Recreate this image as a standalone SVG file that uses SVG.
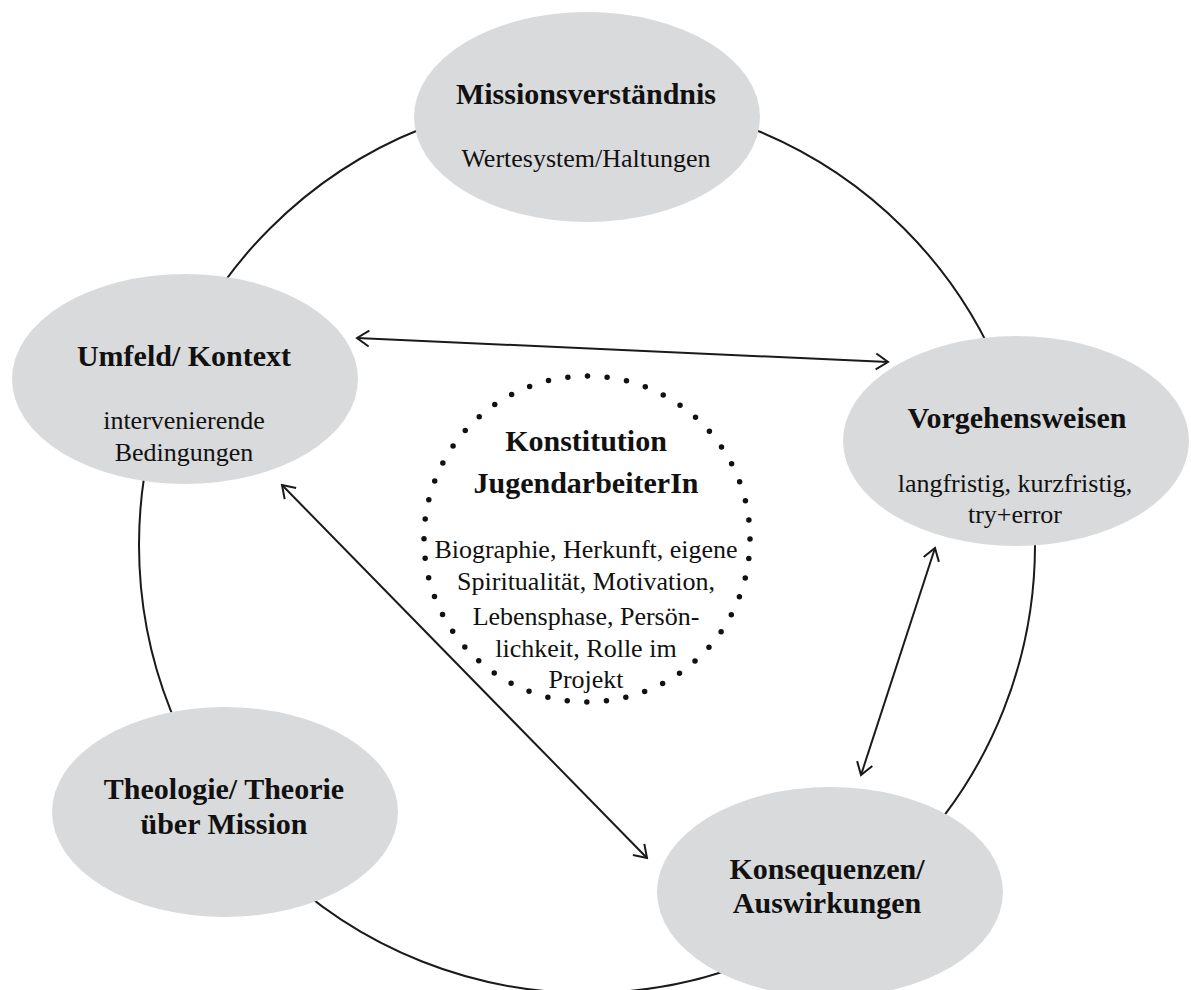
<svg xmlns="http://www.w3.org/2000/svg" width="1191" height="990" viewBox="0 0 1191 990">
<style>
  .node { fill: #d9dadb; stroke: none; }
  .ring { fill: none; stroke: #1a1a1a; stroke-width: 2; }
  .arrow { fill: none; stroke: #1a1a1a; stroke-width: 2; marker-start: url(#head); marker-end: url(#head); }
  .t { font-family: "Liberation Serif", "Times New Roman", serif; fill: #111; text-anchor: middle; }
  .b { font-weight: bold; font-size: 30px; }
  .r { font-size: 26px; }
  .dots { fill: none; stroke: #111; stroke-width: 5.5; stroke-linecap: round; stroke-dasharray: 0 19.7; }
</style>
<defs>
  <marker id="head" viewBox="-14 -10 16 20" refX="0" refY="0" markerWidth="16" markerHeight="20" markerUnits="userSpaceOnUse" orient="auto-start-reverse">
    <path d="M-12,-8 L0,0 L-12,8" fill="none" stroke="#1a1a1a" stroke-width="2"/>
  </marker>
</defs>
<rect width="1191" height="990" fill="#ffffff"/>
<g id="connectors">
  <circle class="ring" cx="587" cy="545" r="448"/>
  <line class="arrow" x1="357" y1="338" x2="888" y2="362"/>
  <line class="arrow" x1="282" y1="485" x2="647" y2="858"/>
  <line class="arrow" x1="935" y1="548" x2="861" y2="775"/>
</g>
<g id="missionsverstaendnis">
  <ellipse class="node" cx="587" cy="117" rx="173" ry="105"/>
  <text class="t b" x="586" y="104">Missionsverständnis</text>
  <text class="t r" x="586" y="167">Wertesystem/Haltungen</text>
</g>
<g id="umfeld-kontext">
  <ellipse class="node" cx="185" cy="379" rx="173" ry="105"/>
  <text class="t b" x="184" y="366">Umfeld/ Kontext</text>
  <text class="t r" x="184" y="429">intervenierende</text>
  <text class="t r" x="184" y="461">Bedingungen</text>
</g>
<g id="vorgehensweisen">
  <ellipse class="node" cx="1016" cy="441" rx="173" ry="105"/>
  <text class="t b" x="1017" y="428">Vorgehensweisen</text>
  <text class="t r" x="1015" y="492">langfristig, kurzfristig,</text>
  <text class="t r" x="1015" y="523">try+error</text>
</g>
<g id="theologie-theorie">
  <ellipse class="node" cx="225" cy="812" rx="173" ry="105"/>
  <text class="t b" x="224" y="799">Theologie/ Theorie</text>
  <text class="t b" x="224" y="834">über Mission</text>
</g>
<g id="konsequenzen-auswirkungen">
  <ellipse class="node" cx="830" cy="892" rx="173" ry="105"/>
  <text class="t b" x="827" y="879">Konsequenzen/</text>
  <text class="t b" x="827" y="913">Auswirkungen</text>
</g>
<g id="konstitution-jugendarbeiterin">
  <circle class="dots" cx="587" cy="539" r="163"/>
  <text class="t b" x="586" y="451">Konstitution</text>
  <text class="t b" x="586" y="493">JugendarbeiterIn</text>
  <text class="t r" x="586" y="558">Biographie, Herkunft, eigene</text>
  <text class="t r" x="586" y="590">Spiritualität, Motivation,</text>
  <text class="t r" x="586" y="625">Lebensphase, Persön-</text>
  <text class="t r" x="586" y="657">lichkeit, Rolle im</text>
  <text class="t r" x="586" y="688">Projekt</text>
</g>
</svg>
